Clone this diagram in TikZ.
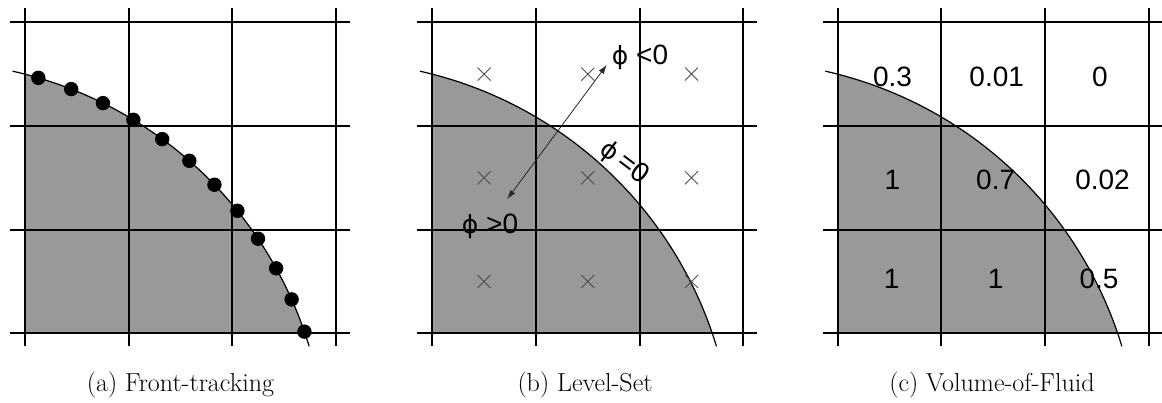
\documentclass[tikz,border=0pt]{standalone}
\usepackage{fontspec}
\newfontfamily\arial{Liberation Sans}
\newfontfamily\dvs{DejaVu Sans}
\usetikzlibrary{arrows.meta}
\definecolor{fluid}{gray}{0.6}
\definecolor{crossgray}{gray}{0.3}
\tikzset{
  gridline/.style={line width=2pt, black},
  iface/.style={line width=1.2pt, black},
  fillarea/.style={fill=fluid},
  marker/.style={fill=black},
  xmark/.style={crossgray, line width=0.9pt},
  lbl/.style={font=\arial\fontsize{28}{30}\selectfont, inner sep=0pt},
  captext/.style={font=\fontsize{26}{28}\selectfont, inner sep=0pt, anchor=base},
  normalarrow/.style={{Latex[length=9pt,width=6pt]}-{Latex[length=9pt,width=6pt]}, line width=0.8pt, black!85}
}
\newcommand\phisym{{\dvs\fontsize{25}{28}\selectfont ϕ}}
\newcommand\drawpanel{%
  \begin{scope}
    \clip (0,22.3) rectangle (311,333.3);
    \fill[fillarea] (-100,463) circle (401.5);
  \end{scope}
  \foreach \gx in {0,103.7,207.3,311} \draw[gridline] (\gx,8) -- (\gx,346);
  \foreach \gy in {22.3,126,229.7,333.3} \draw[gridline] (-15,\gy) -- (325,\gy);
  \draw[iface] plot[domain=16.9:77.4, samples=120] ({-100+401.5*cos(\x)},{463-401.5*sin(\x)});
}
\begin{document}
\begin{tikzpicture}[x=1pt,y=-1pt]
\useasboundingbox (0,0) rectangle (1162,403);
% (a) Front-tracking
\begin{scope}[shift={(25,0)}]
  \drawpanel
  \foreach \k in {0,...,11}
    \fill[marker] ({-100+401.5*cos(73.6-4.955*\k)},{463-401.5*sin(73.6-4.955*\k)}) circle (7.2);
\end{scope}
% (b) Level-Set
\begin{scope}[shift={(432.3,0)}]
  \drawpanel
  \foreach \cx in {51.8,155.5,259.2}
    \foreach \cy in {74.1,177.8,281.5}
      \draw[xmark] (\cx-6.5,\cy-6.5) -- (\cx+6.5,\cy+6.5) (\cx-6.5,\cy+6.5) -- (\cx+6.5,\cy-6.5);
  \coordinate (pin) at (75,199);
  \coordinate (pout) at (174.4,65);
  \draw[normalarrow] (pin) -- (pout);
  \node[lbl, anchor=base west] (neg) at (179.4,65) {\phisym\ <0};
  \node[lbl, anchor=base west] (pos) at (29.4,233.3) {\phisym\ >0};
  \node[lbl, rotate=-37] (zero) at (192,163) {\phisym\,=0};
\end{scope}
% (c) Volume-of-Fluid
\begin{scope}[shift={(837.7,0)}]
  \drawpanel
  \node[lbl] (c11) at (54.8,77) {0.3};
  \node[lbl] (c12) at (159,77) {0.01};
  \node[lbl] (c13) at (262.3,77) {0};
  \node[lbl] (c21) at (54.8,180) {1};
  \node[lbl] (c22) at (158,180) {0.7};
  \node[lbl] (c23) at (264.8,180) {0.02};
  \node[lbl] (c31) at (54,279) {1};
  \node[lbl] (c32) at (158,279) {1};
  \node[lbl] (c33) at (261.3,279) {0.5};
\end{scope}
\node[captext] (capa) at (180.5,391.7) {(a) Front-tracking};
\node[captext] (capb) at (585,391.7) {(b) Level-Set};
\node[captext] (capc) at (992,391.7) {(c) Volume-of-Fluid};
\end{tikzpicture}
\end{document}
